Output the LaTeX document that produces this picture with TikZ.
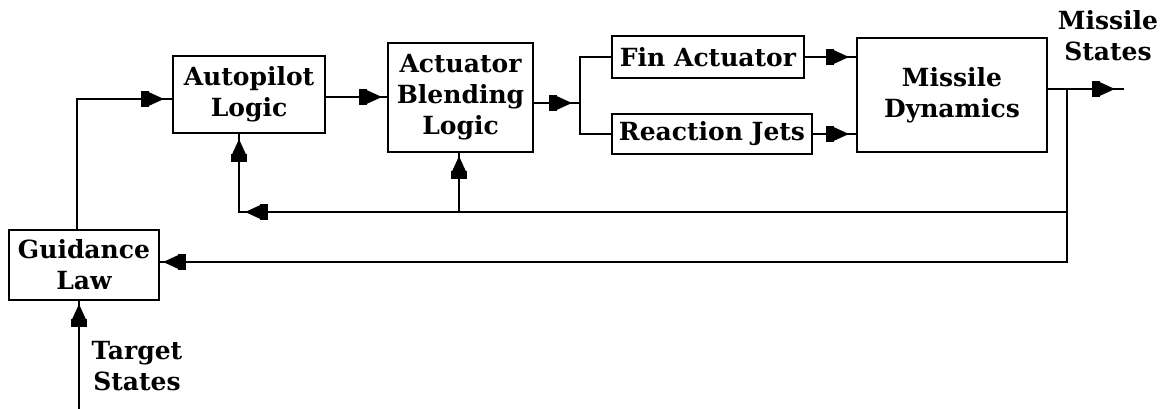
\documentclass[tikz,border=0pt]{standalone}
\usepackage{fontspec}
\setmainfont{DejaVu Serif}
\usetikzlibrary{arrows.meta}
\begin{document}
\begin{tikzpicture}[x=1pt,y=-1pt,
  line width=2pt, line cap=rect,
  blk/.style={draw, line width=2pt, inner sep=0pt, align=center,
    font=\fontsize{25}{31}\selectfont\bfseries},
  lbl/.style={inner sep=0pt, align=center,
    font=\fontsize{25}{31}\selectfont\bfseries},
  arr/.style={postaction={draw, line cap=butt,
    -{Rectangle[length=8pt,width=16pt,sep=0pt]Triangle[length=15pt,width=13pt]},
    shorten >=#1}},
  arr/.default=6pt]
\useasboundingbox (0,0) rectangle (1164,409);
% blocks
\node[blk, minimum width=150pt, minimum height=70pt] (guid) at (84,265) {Guidance\\Law};
\node[blk, minimum width=152pt, minimum height=77pt] (auto) at (249,94.5) {Autopilot\\Logic};
\node[blk, minimum width=145pt, minimum height=109pt] (act) at (460.5,97.5) {Actuator\\Blending\\Logic};
\node[blk, minimum width=192pt, minimum height=42pt] (fin) at (708,57) {Fin Actuator};
\node[blk, minimum width=200pt, minimum height=40pt] (rj) at (712,134) {Reaction Jets};
\node[blk, minimum width=190pt, minimum height=114pt] (md) at (952,95) {Missile\\Dynamics};
% labels
\node[lbl] (ms) at (1108,36) {Missile\\States};
\node[lbl] (ts) at (137,366) {Target\\States};
% junction coordinates
\coordinate (tgt) at (79,409);
\coordinate (gup) at (77,99);
\coordinate (split) at (580,103);
\coordinate (outj) at (1067,89);
\coordinate (outend) at (1123,89);
\coordinate (fb1) at (1067,212);
\coordinate (fbc) at (239,212);
\coordinate (fba) at (459,212);
\coordinate (fb2) at (1067,262);
% connectors
\draw[arr=3pt] (tgt) -- (tgt |- guid.south);
\draw[arr=8pt] (gup |- guid.north) -- (gup) -- (auto.west |- gup);
\draw[arr=5pt] (auto.east |- 0,97) -- (act.west |- 0,97);
\draw[arr=8pt] (act.east |- split) -- (split);
\draw (split |- fin.west) -- (split |- rj.west);
\draw (split |- fin.west) -- (fin.west);
\draw (split |- rj.west) -- (rj.west);
\draw[arr=7pt] (fin.east) -- (md.west |- fin.east);
\draw[arr=7pt] (rj.east) -- (md.west |- rj.east);
\draw[arr=8pt] (md.east |- outj) -- (outend);
\draw (outj) -- (fb2);
\draw[arr=6pt] (fb1) -- (fbc);
\draw[arr=5pt] (fbc) -- (fbc |- auto.south);
\draw[arr=3pt] (fba) -- (fba |- act.south);
\draw[arr=3pt] (fb2) -- (guid.east |- fb2);
\end{tikzpicture}
\end{document}
